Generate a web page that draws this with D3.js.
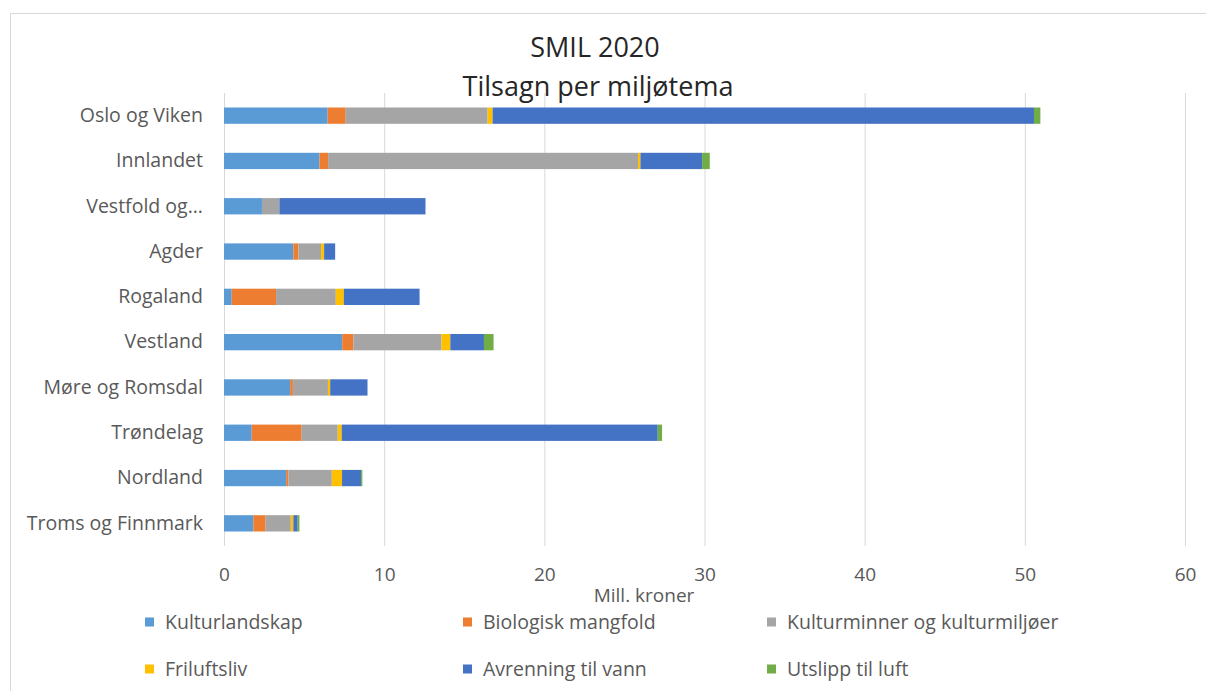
<!DOCTYPE html>
<html>
<head>
<meta charset="utf-8">
<script src="https://cdn.jsdelivr.net/npm/d3@7"></script>
<style>
  body { margin: 0; background: #fff; }
  text { font-family: "Open Sans", sans-serif; }
</style>
</head>
<body>
<svg id="chart" width="1206" height="691"></svg>
<script>
// regions, top to bottom
const regions = ["Oslo og Viken", "Innlandet", "Vestfold og...", "Agder", "Rogaland",
  "Vestland", "Møre og Romsdal", "Trøndelag", "Nordland", "Troms og Finnmark"];

const themes = ["Kulturlandskap", "Biologisk mangfold", "Kulturminner og kulturmiljøer",
  "Friluftsliv", "Avrenning til vann", "Utslipp til luft"];

const colors = ["#5b9bd5", "#ed7d31", "#a5a5a5", "#ffc000", "#4472c4", "#70ad47"];

// mill. kroner per theme, same order as regions
const kulturlandskap = [6.47, 5.96, 2.37, 4.33, 0.48, 7.38, 4.13, 1.73, 3.88, 1.83];
const biologisk      = [1.13, 0.54, 0.00, 0.32, 2.77, 0.70, 0.17, 3.12, 0.14, 0.77];
const kulturminner   = [8.86, 19.35, 1.09, 1.41, 3.73, 5.50, 2.19, 2.25, 2.71, 1.57];
const friluftsliv    = [0.31, 0.15, 0.00, 0.19, 0.50, 0.55, 0.14, 0.25, 0.64, 0.16];
const avrenning      = [33.80, 3.85, 9.12, 0.69, 4.73, 2.10, 2.33, 19.73, 1.19, 0.27];
const utslipp        = [0.40, 0.48, 0.00, 0.00, 0.00, 0.60, 0.00, 0.27, 0.08, 0.11];

const xTicks = [0, 10, 20, 30, 40, 50, 60];

const series = [kulturlandskap, biologisk, kulturminner, friluftsliv, avrenning, utslipp];
const rows = regions.map((r, i) => {
  const row = { region: r };
  themes.forEach((t, j) => { row[t] = series[j][i]; });
  return row;
});

const svg = d3.select("#chart");
const textColor = "#595959";

// outer frame
svg.append("rect")
  .attr("x", 10.5).attr("y", 13.5)
  .attr("width", 1210).attr("height", 700)
  .attr("fill", "none").attr("stroke", "#d9d9d9");

const x = d3.scaleLinear().domain([0, 60]).range([224, 1185]);
const y = d3.scaleBand().domain(regions).range([93, 546]).paddingInner(0.64).paddingOuter(0.32);

// gridlines
svg.append("g")
  .selectAll("line")
  .data(xTicks)
  .join("line")
  .attr("x1", d => x(d) + 0.5).attr("x2", d => x(d) + 0.5)
  .attr("y1", 93).attr("y2", 546)
  .attr("stroke", "#d9d9d9").attr("stroke-width", 1);

const stack = d3.stack().keys(themes)(rows);

svg.append("g")
  .selectAll("g")
  .data(stack)
  .join("g")
  .attr("fill", (d, i) => colors[i])
  .selectAll("rect")
  .data(d => d)
  .join("rect")
  .attr("x", d => x(d[0]))
  .attr("width", d => Math.max(0, x(d[1]) - x(d[0])))
  .attr("y", d => y(d.data.region))
  .attr("height", y.bandwidth());

// x axis labels
const xAxis = svg.append("g")
  .attr("transform", "translate(0,567)")
  .call(d3.axisBottom(x).tickValues(xTicks).tickSize(0).tickPadding(0));
xAxis.select(".domain").remove();
xAxis.selectAll("text")
  .attr("dy", "0.71em")
  .attr("fill", textColor)
  .style("font-size", "19px")
  .style("font-family", "'Open Sans', sans-serif");

// y axis labels
const yAxis = svg.append("g")
  .attr("transform", "translate(203,0)")
  .call(d3.axisLeft(y).tickSize(0).tickPadding(0));
yAxis.select(".domain").remove();
yAxis.selectAll("text")
  .attr("fill", textColor)
  .style("font-size", "19.5px")
  .style("font-family", "'Open Sans', sans-serif");

// titles
svg.append("text")
  .attr("x", 595).attr("y", 57)
  .attr("text-anchor", "middle")
  .attr("fill", "#262626")
  .style("font-size", "27px")
  .text("SMIL 2020");
svg.append("text")
  .attr("x", 598).attr("y", 96)
  .attr("text-anchor", "middle")
  .attr("fill", "#262626")
  .style("font-size", "27px")
  .text("Tilsagn per miljøtema");

svg.append("text")
  .attr("x", 644).attr("y", 602)
  .attr("text-anchor", "middle")
  .attr("fill", textColor)
  .style("font-size", "19px")
  .text("Mill. kroner");

// legend
const legendX = [145, 463, 767];
const legendY = [622, 669];
const legend = svg.append("g")
  .selectAll("g")
  .data(themes)
  .join("g")
  .attr("transform", (d, i) => `translate(${legendX[i % 3]},${legendY[Math.floor(i / 3)]})`);
legend.append("rect")
  .attr("x", 0).attr("y", -4.5)
  .attr("width", 9).attr("height", 9)
  .attr("fill", (d, i) => colors[i]);
legend.append("text")
  .attr("x", 20).attr("y", 0)
  .attr("dy", "0.35em")
  .attr("fill", textColor)
  .style("font-size", "19.5px")
  .text(d => d);
</script>
</body>
</html>
